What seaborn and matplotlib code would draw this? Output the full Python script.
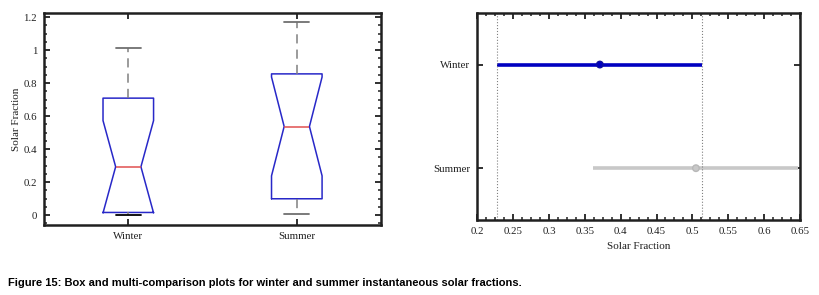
import numpy as np
import matplotlib
matplotlib.use('Agg')
import matplotlib.pyplot as plt
from matplotlib.ticker import MultipleLocator
import seaborn as sns

# box plot statistics
seasons = ['Winter', 'Summer']
whisker_lo = [0.0, 0.004]
q1 = [0.016, 0.099]
median = [0.293, 0.537]
q3 = [0.709, 0.856]
whisker_hi = [1.014, 1.173]
notch_lo = [0.013, 0.238]
notch_hi = [0.573, 0.837]

# multiple comparison intervals
mc_mean = [0.371, 0.505]
mc_lo = [0.228, 0.362]
mc_hi = [0.514, 0.648]
mc_colors = ['#0000C0', '#C8C8C8']

sns.set_style('ticks')
plt.rcParams['font.family'] = ['Liberation Serif', 'DejaVu Serif']
plt.rcParams['xtick.direction'] = 'in'
plt.rcParams['ytick.direction'] = 'in'

fig = plt.figure(figsize=(8.2, 2.95), dpi=100)
ax1 = fig.add_axes([0.0537, 0.2373, 0.411, 0.7186])
ax2 = fig.add_axes([0.582, 0.2542, 0.3935, 0.7027])

# --- box plot ---
stats = []
for i, s in enumerate(seasons):
    stats.append({'label': s, 'whislo': whisker_lo[i], 'q1': q1[i], 'med': median[i],
                  'q3': q3[i], 'whishi': whisker_hi[i],
                  'cilo': notch_lo[i], 'cihi': notch_hi[i], 'fliers': []})
bp = ax1.bxp(stats, positions=[1, 2], widths=0.3, shownotches=True, showfliers=False,
             boxprops=dict(color='#2828C8', linewidth=1.1),
             medianprops=dict(color='#E05050', linewidth=1.1),
             whiskerprops=dict(color='#808080', linestyle=(0, (6, 4)), linewidth=1.1),
             capprops=dict(color='#707070', linewidth=1.3))
bp['caps'][0].set_color('#000000')
ax1.set_xlim(0.5, 2.5)
ax1.set_ylim(-0.06, 1.225)
ax1.set_xticks([1, 2])
ax1.set_xticklabels(seasons)
ax1.set_yticks([0, 0.2, 0.4, 0.6, 0.8, 1.0, 1.2])
ax1.set_yticklabels(['0', '0.2', '0.4', '0.6', '0.8', '1', '1.2'])
ax1.yaxis.set_minor_locator(MultipleLocator(0.05))
ax1.set_ylabel('Solar Fraction', fontsize=8, labelpad=2, color='#202020')

# --- multiple comparison plot ---
ypos = [2, 1]
for i, s in enumerate(seasons):
    ax2.hlines(ypos[i], mc_lo[i], mc_hi[i], color=mc_colors[i], linewidth=2.6)
sns.scatterplot(x=mc_mean, y=ypos, hue=seasons, palette=mc_colors, ax=ax2,
                s=22, marker='o', edgecolor=['#1010A0', '#B8B8B8'], linewidth=1.0,
                legend=False, zorder=3)
ax2.axvline(mc_lo[0], color='#808080', linestyle=':', linewidth=0.8)
ax2.axvline(mc_hi[0], color='#808080', linestyle=':', linewidth=0.8)
ax2.set_xlim(0.2, 0.65)
ax2.set_ylim(0.5, 2.5)
ax2.set_yticks(ypos)
ax2.set_yticklabels(seasons)
ax2.set_xticks([0.2, 0.25, 0.3, 0.35, 0.4, 0.45, 0.5, 0.55, 0.6, 0.65])
ax2.set_xticklabels(['0.2', '0.25', '0.3', '0.35', '0.4', '0.45', '0.5', '0.55', '0.6', '0.65'])
ax2.xaxis.set_minor_locator(MultipleLocator(0.0125))
ax2.set_xlabel('Solar Fraction', fontsize=8, labelpad=4, color='#202020')

for ax in (ax1, ax2):
    for sp in ax.spines.values():
        sp.set_visible(True)
        sp.set_linewidth(1.8)
        sp.set_color('#202020')
    ax.tick_params(which='both', top=True, right=True, direction='in',
                   labelsize=7.8, colors='#202020', pad=5)
    ax.tick_params(which='major', length=4, width=1.3)
    ax.tick_params(which='minor', length=2.2, width=1.1)
ax1.tick_params(axis='x', which='minor', top=False, bottom=False)
ax2.tick_params(axis='y', which='minor', left=False, right=False)

fig.text(0.0098, 0.041, 'Figure 15: Box and multi-comparison plots for winter and summer '
         'instantaneous solar fractions.', fontsize=8, fontweight='bold', color='black',
         family=['Liberation Sans', 'DejaVu Sans'], va='center', ha='left')

fig.savefig('out.png', dpi=100)
